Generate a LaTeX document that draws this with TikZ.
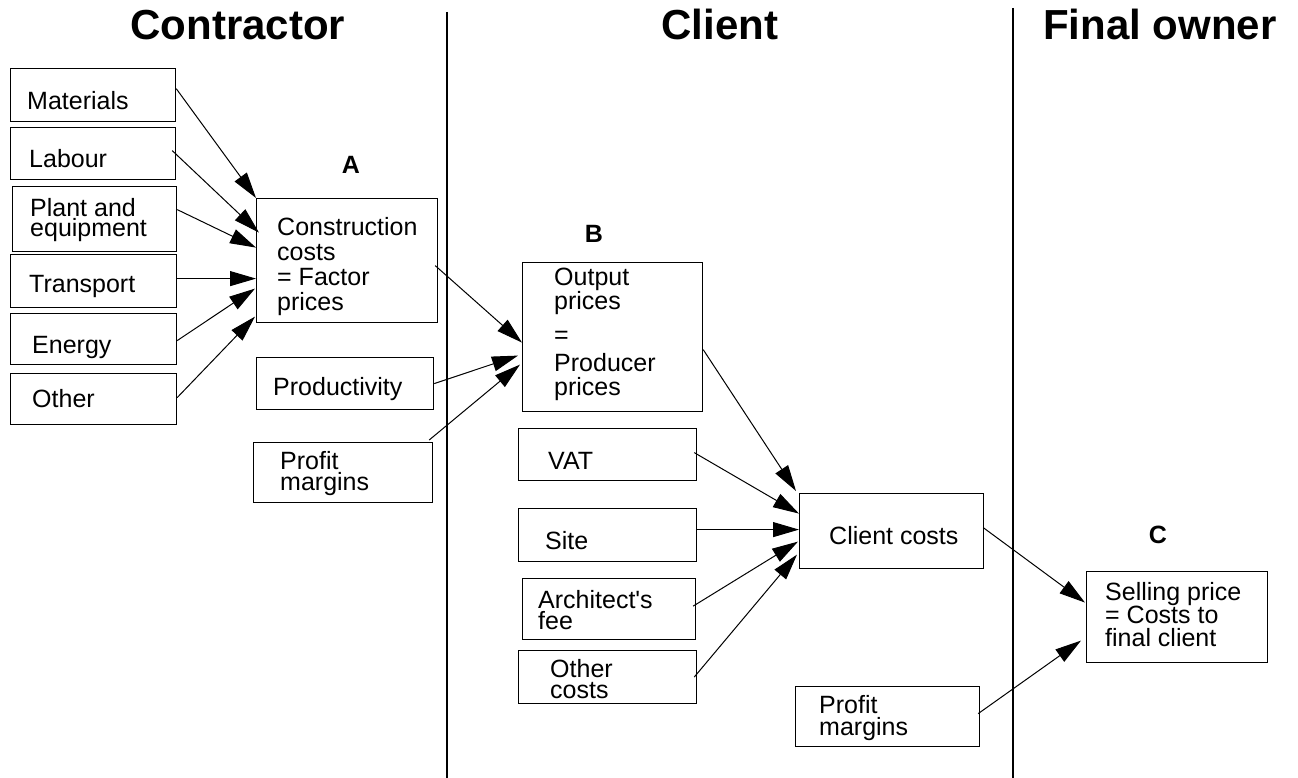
\documentclass[tikz,border=0pt]{standalone}
\usepackage{fontspec}
\setmainfont{Liberation Sans}
\usetikzlibrary{arrows.meta}
\tikzset{
  box/.style={draw, line width=1.2pt, inner sep=0pt, anchor=north west},
  txt/.style={anchor=base west, inner sep=0pt, font=\fontsize{25}{25}\selectfont},
  title/.style={anchor=base, inner sep=0pt, font=\fontsize{42}{42}\selectfont\bfseries},
  tag/.style={anchor=base, inner sep=0pt, font=\fontsize{25}{25}\selectfont\bfseries},
  arr/.style={line width=1pt, -{Triangle[length=26pt,width=15pt]}},
  sep/.style={line width=1.2pt}
}
\newcommand{\lines}[1]{\parbox[t]{300pt}{#1}}
\begin{document}
\begin{tikzpicture}[x=1pt,y=-1pt]
\useasboundingbox (0,0) rectangle (1298,778);
% titles
\node[title] (t1) at (238,40) {Contractor};
\node[title] (t2) at (720,40) {Client};
\node[title] (t3) at (1160,40) {Final owner};
% separators
\coordinate (s1t) at (447,12); \coordinate (s1b) at (447,778);
\coordinate (s2t) at (1013,8); \coordinate (s2b) at (1013,778);
\draw[sep] (s1t) -- (s1b);
\draw[sep] (s2t) -- (s2b);
% contractor column
\node[box, minimum width=165pt, minimum height=53pt] (mat) at (10,68) {};
\node[txt] (matT) at (27,110) {Materials};
\node[box, minimum width=165pt, minimum height=52pt] (lab) at (10,127) {};
\node[txt] (labT) at (29,168) {Labour};
\node[box, minimum width=164pt, minimum height=65pt] (pla) at (12,186) {};
\node[txt, font=\fontsize{25}{20}\selectfont] (plaT) at (30,217) {\lines{Plant and\\equipment}};
\node[box, minimum width=166pt, minimum height=53pt] (tra) at (10,254) {};
\node[txt] (traT) at (29,292) {Transport};
\node[box, minimum width=166pt, minimum height=51pt] (ene) at (10,313) {};
\node[txt] (eneT) at (32,353) {Energy};
\node[box, minimum width=166pt, minimum height=51pt] (oth) at (10,373) {};
\node[txt] (othT) at (32,407) {Other};
\node[tag] (A) at (351,174) {A};
\node[box, minimum width=181pt, minimum height=124pt] (cc) at (256,198) {};
\node[txt, font=\fontsize{25}{24.7}\selectfont] (ccT) at (277,236) {\lines{Construction\\costs\\= Factor\\prices}};
\node[box, minimum width=177pt, minimum height=52pt] (prod) at (256,357) {};
\node[txt] (prodT) at (273,395) {Productivity};
\node[box, minimum width=179pt, minimum height=60pt] (pml) at (253,442) {};
\node[txt, font=\fontsize{25}{21}\selectfont] (pmlT) at (280,469) {\lines{Profit\\margins}};
% client column
\node[tag] (B) at (594,242) {B};
\node[box, minimum width=180pt, minimum height=149pt] (op) at (522,262) {};
\node[txt, font=\fontsize{25}{24}\selectfont] (opT) at (554,285) {\lines{Output\\prices\\[10pt]=\\[4pt]Producer\\prices}};
\node[box, minimum width=178pt, minimum height=52pt] (vat) at (518,428) {};
\node[txt] (vatT) at (548,469) {VAT};
\node[box, minimum width=178pt, minimum height=53pt] (site) at (518,508) {};
\node[txt] (siteT) at (545,549) {Site};
\node[box, minimum width=173pt, minimum height=61pt] (arch) at (522,578) {};
\node[txt, font=\fontsize{25}{21}\selectfont] (archT) at (538,608) {\lines{Architect\textquotesingle s\\fee}};
\node[box, minimum width=178pt, minimum height=53pt] (oc) at (518,650) {};
\node[txt, font=\fontsize{25}{21}\selectfont] (ocT) at (550,677) {\lines{Other\\costs}};
\node[box, minimum width=184pt, minimum height=75pt] (cl) at (799,493) {};
\node[txt] (clT) at (829,544) {Client costs};
\node[box, minimum width=184pt, minimum height=60pt] (pmr) at (795,686) {};
\node[txt, font=\fontsize{25}{22}\selectfont] (pmrT) at (819,713) {\lines{Profit\\margins}};
% final owner column
\node[tag] (C) at (1158,543) {C};
\node[box, minimum width=181pt, minimum height=91pt] (sp) at (1086,571) {};
\node[txt, font=\fontsize{25}{22.5}\selectfont] (spT) at (1105,600) {\lines{Selling price\\= Costs to\\final client}};
% arrows into construction costs
\draw[arr] ([yshift=6.5pt]mat.east) -- (cc.north west);
\draw[arr] ([xshift=-4pt,yshift=3pt]lab.east) -- ([xshift=3pt,yshift=28pt]cc.west);
\draw[arr] ([yshift=9.5pt]pla.east) -- ([yshift=13pt]cc.west);
\draw[arr] ([yshift=2.5pt]tra.east) -- ([yshift=2.5pt]tra.east -| cc.west);
\draw[arr] ([yshift=-1.5pt]ene.east) -- ([xshift=-1pt,yshift=-28pt]cc.west);
\draw[arr] ([yshift=1.5pt]oth.east) -- ([xshift=-1pt,yshift=-56pt]cc.west);
% arrows into output prices
\draw[arr] ([xshift=-3pt,yshift=-5pt]cc.east) -- ([yshift=-5.5pt]op.west);
\draw[arr] (prod.east) -- ([xshift=-4pt,yshift=-18.5pt]op.west);
\draw[arr] ([xshift=-4pt,yshift=2pt]pml.north east) -- ([xshift=-2pt,yshift=-27.5pt]op.west);
% arrows into client costs
\draw[arr] ([yshift=-12.5pt]op.east) -- ([xshift=-3pt,yshift=2pt]cl.north west);
\draw[arr] ([xshift=-3pt,yshift=2pt]vat.east) -- ([yshift=17.5pt]cl.west);
\draw[arr] ([yshift=5.5pt]site.east) -- ([yshift=5.5pt]site.east -| cl.west);
\draw[arr] ([xshift=-3pt,yshift=3pt]arch.east) -- ([xshift=-1pt,yshift=-10.5pt]cl.west);
\draw[arr] ([xshift=-3pt]oc.east) -- ([xshift=-2pt,yshift=-23.5pt]cl.west);
% arrows into selling price
\draw[arr] ([xshift=-1pt,yshift=3.5pt]cl.east) -- ([xshift=-1pt,yshift=14.5pt]sp.west);
\draw[arr] ([xshift=-2pt,yshift=3pt]pmr.east) -- ([xshift=-5pt,yshift=-23.5pt]sp.west);
\end{tikzpicture}
\end{document}
